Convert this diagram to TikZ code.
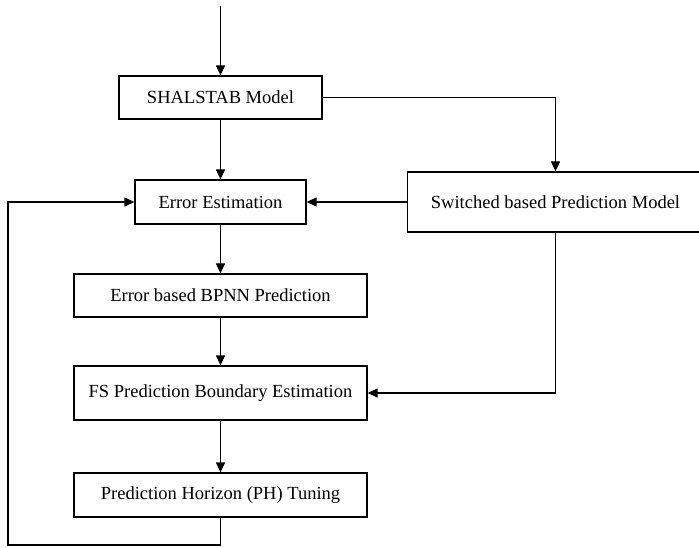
\documentclass[tikz,border=0pt]{standalone}
\usepackage{fontspec}
\setmainfont{Liberation Serif}
\usepackage{tikz}
\usetikzlibrary{arrows.meta,positioning,calc}

\begin{document}
\begin{tikzpicture}[
    x=1pt, y=-1pt,
    box/.style={rectangle, draw, line width=1.3pt, minimum height=43pt, inner sep=0pt, font=\fontsize{18.5}{22}\selectfont, fill=white},
    arrow/.style={-{Triangle[length=10pt, width=9pt]}, line width=1.3pt}
]
\useasboundingbox (0,0) rectangle (699,548);

% Main flow
\coordinate (in) at (220.5,6);
\node[box, minimum width=203pt] (shalstab) at (220.5,97.5) {SHALSTAB Model};
\node[box, minimum width=171pt, minimum height=44pt] (errest) at (220.5,202) {Error Estimation};
\node[box, minimum width=296pt, minimum height=60pt] (switched) at (555.5,202) {Switched based Prediction Model};
\node[box, minimum width=293pt] (bpnn) at (220.5,295.5) {Error based BPNN Prediction};
\node[box, minimum width=293pt, minimum height=54pt] (fsbound) at (220.5,393) {FS Prediction Boundary Estimation};
\node[box, minimum width=293pt, minimum height=44pt] (phtune) at (220.5,495) {Prediction Horizon (PH) Tuning};

\draw[arrow] (in) -- (shalstab);
\draw[arrow] (shalstab) -- (errest);
\draw[arrow] (shalstab.east) -| (switched.north);
\draw[arrow] (switched) -- (errest);
\draw[arrow] (errest) -- (bpnn);
\draw[arrow] (bpnn) -- (fsbound);
\draw[arrow] (switched.south) |- (fsbound.east);
\draw[arrow] (fsbound) -- (phtune);

% Feedback loop
\coordinate (loop) at (8,545);
\draw[arrow] (phtune.south) |- (loop) |- (errest.west);

\end{tikzpicture}
\end{document}
